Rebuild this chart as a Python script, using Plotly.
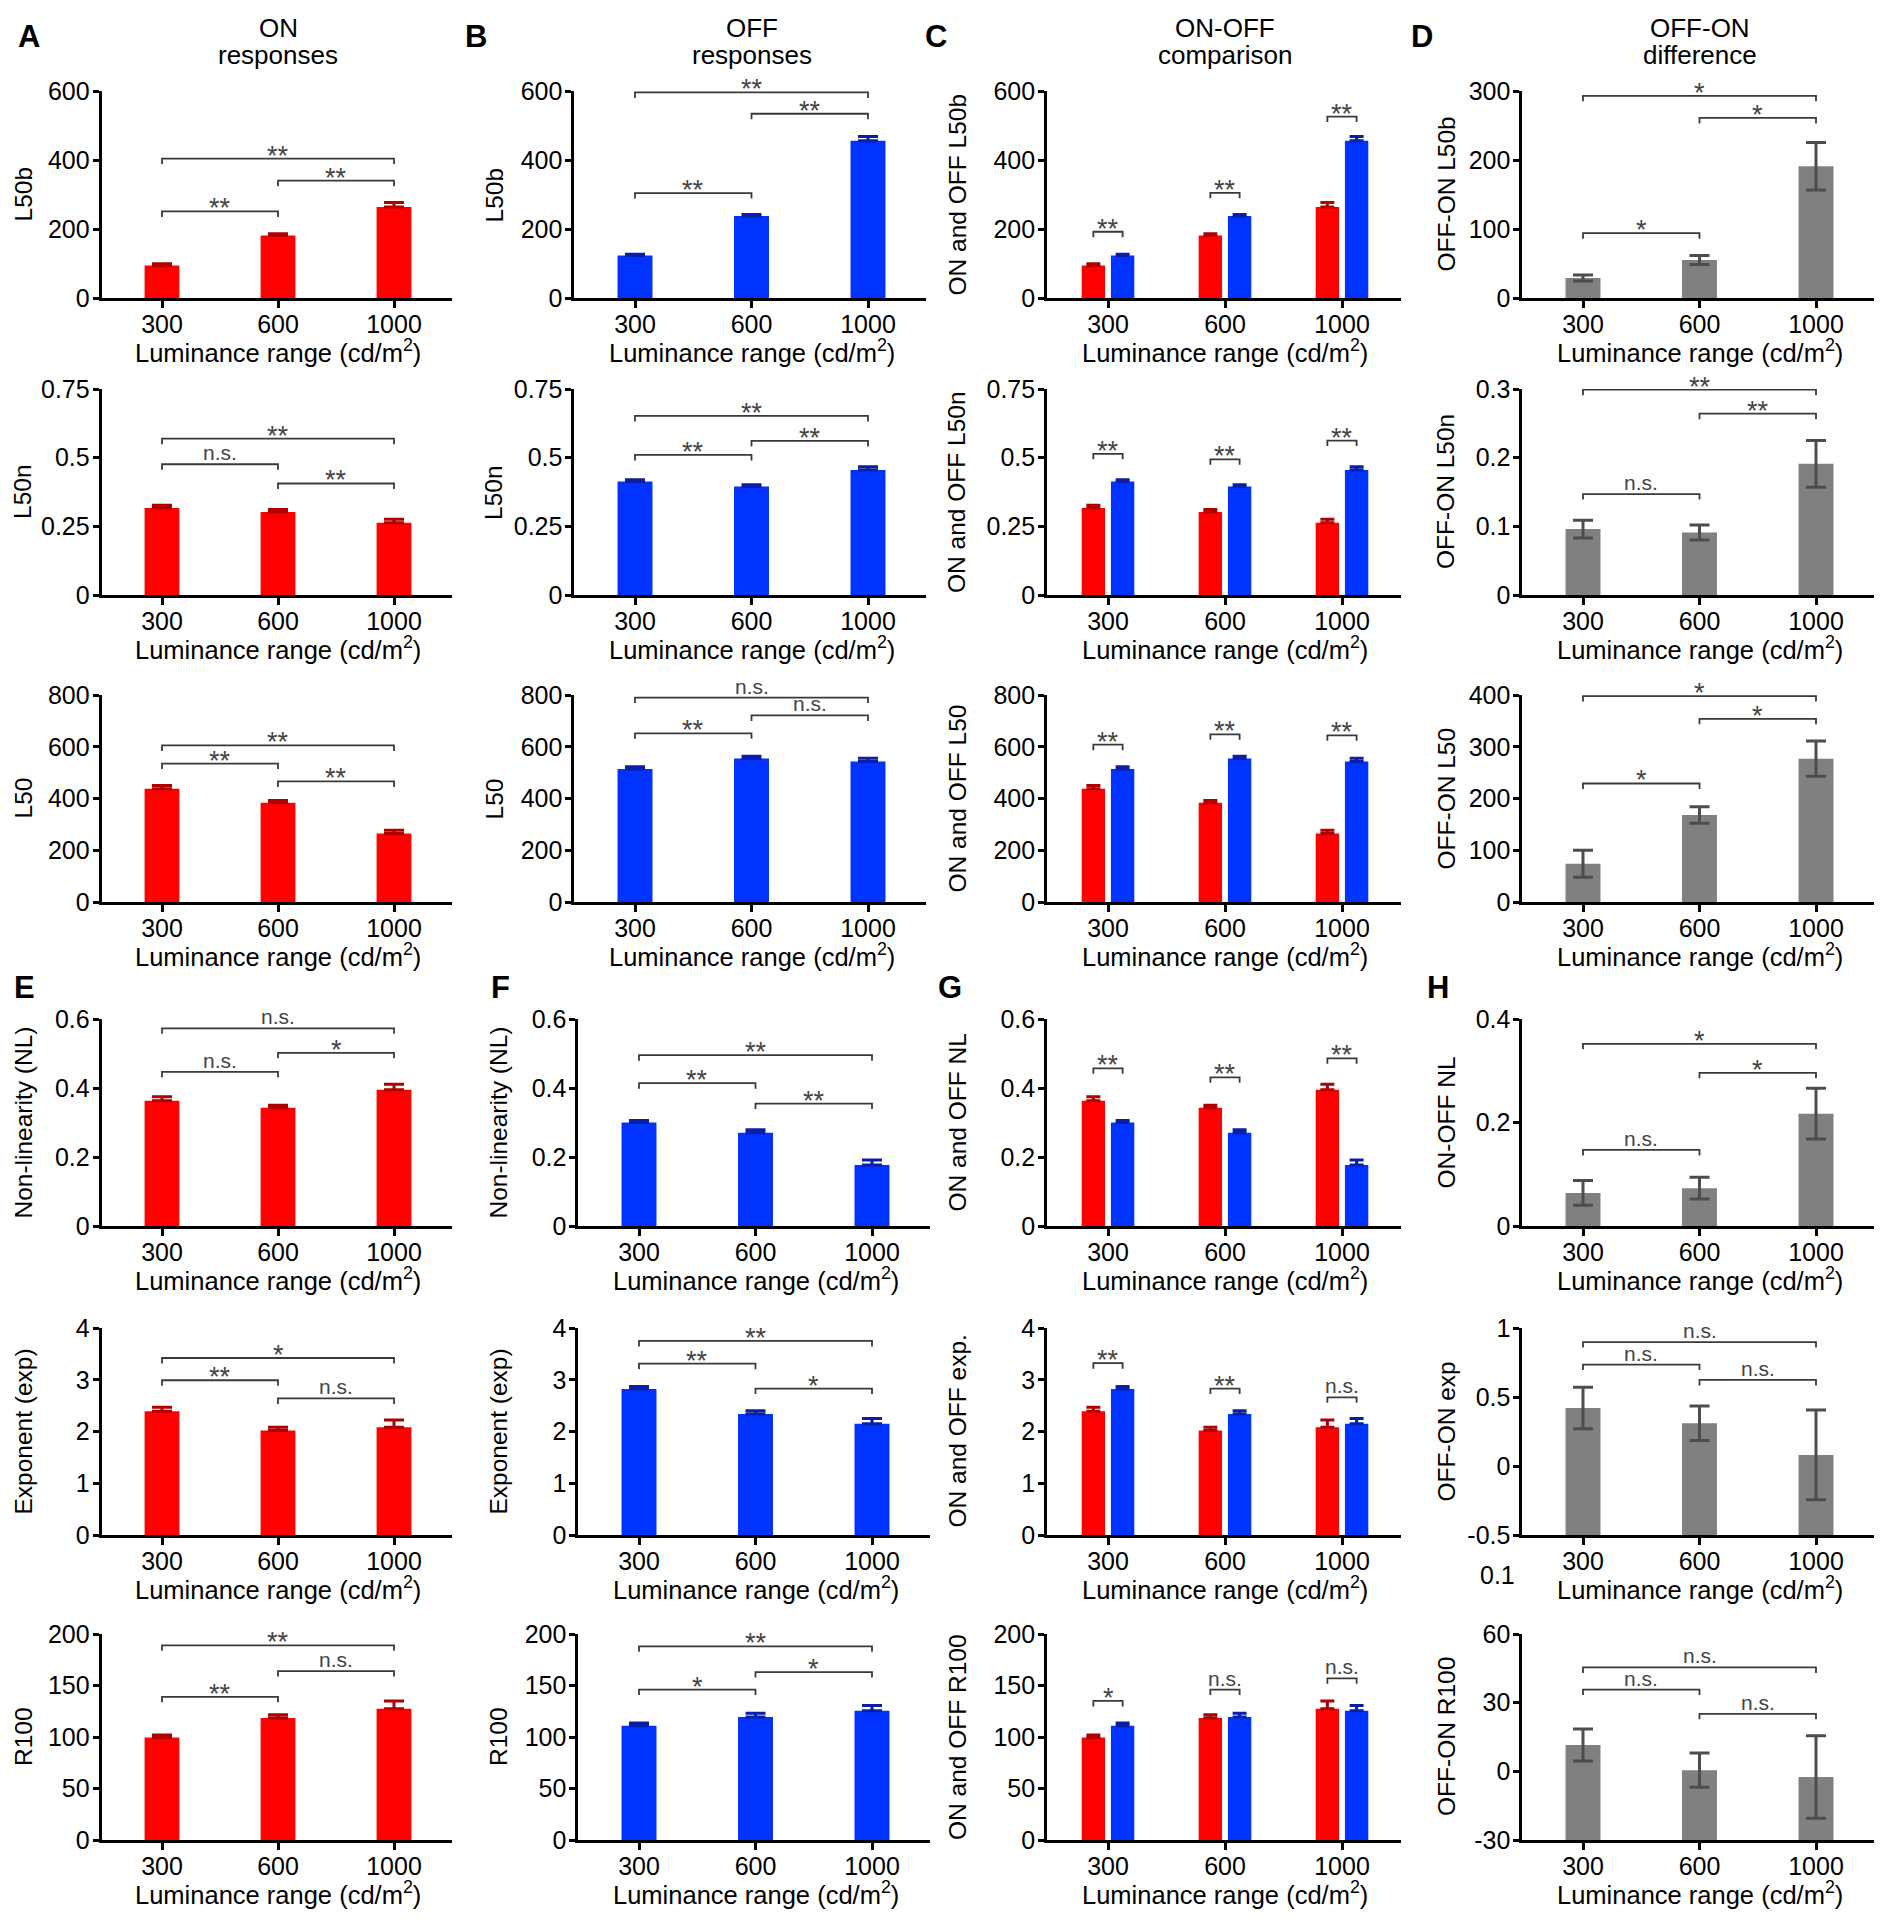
import plotly.graph_objects as go

# ---------------- data ----------------
categories = ["300", "600", "1000"]

on_L50b = [94, 181, 264]
on_L50b_err = [5, 5, 13]
off_L50b = [123, 238, 456]
off_L50b_err = [4, 4, 12]
diff_L50b = [29, 55, 191]
diff_L50b_err = [4.5, 6.5, 34.5]

on_L50n = [0.317, 0.302, 0.263]
on_L50n_err = [0.010, 0.009, 0.013]
off_L50n = [0.413, 0.395, 0.455]
off_L50n_err = [0.007, 0.006, 0.012]
diff_L50n = [0.096, 0.091, 0.191]
diff_L50n_err = [0.013, 0.011, 0.034]

on_L50 = [438, 384, 265]
on_L50_err = [12, 8, 12]
off_L50 = [514, 555, 543]
off_L50_err = [9, 8, 13]
diff_L50 = [74, 168, 277]
diff_L50_err = [26, 16, 34]

on_NL = [0.363, 0.343, 0.395]
on_NL_err = [0.012, 0.007, 0.016]
off_NL = [0.300, 0.270, 0.177]
off_NL_err = [0.006, 0.009, 0.014]
diff_NL = [0.064, 0.073, 0.217]
diff_NL_err = [0.024, 0.021, 0.049]

on_exp = [2.39, 2.02, 2.08]
on_exp_err = [0.08, 0.06, 0.14]
off_exp = [2.82, 2.34, 2.15]
off_exp_err = [0.05, 0.06, 0.10]
diff_exp = [0.42, 0.31, 0.08]
diff_exp_err = [0.15, 0.125, 0.325]

on_R100 = [99.5, 118.5, 127.5]
on_R100_err = [2.5, 3, 7.5]
off_R100 = [111, 119.5, 125.5]
off_R100_err = [2.5, 3.5, 5]
diff_R100 = [11.5, 0.5, -2.5]
diff_R100_err = [7, 7.5, 18]

# significance brackets: (from, to, height, label) or (group, height, label)
sig_on_L50b = [(0, 1, 251, "**"), (1, 2, 340, "**"), (0, 2, 404, "**")]
sig_off_L50b = [(0, 1, 304, "**"), (1, 2, 534, "**"), (0, 2, 596, "**")]
sig_pair_L50b = [(0, 192, "**"), (1, 305, "**"), (2, 526, "**")]
sig_diff_L50b = [(0, 1, 94, "*"), (1, 2, 261, "*"), (0, 2, 293, "*")]

sig_on_L50n = [(0, 1, 0.476, "n.s."), (1, 2, 0.406, "**"), (0, 2, 0.569, "**")]
sig_off_L50n = [(0, 1, 0.51, "**"), (1, 2, 0.561, "**"), (0, 2, 0.652, "**")]
sig_pair_L50n = [(0, 0.514, "**"), (1, 0.494, "**"), (2, 0.562, "**")]
sig_diff_L50n = [(0, 1, 0.147, "n.s."), (1, 2, 0.264, "**"), (0, 2, 0.299, "**")]

sig_on_L50 = [(0, 1, 535, "**"), (1, 2, 466, "**"), (0, 2, 605, "**")]
sig_off_L50 = [(0, 1, 652, "**"), (1, 2, 721, "n.s."), (0, 2, 790, "n.s.")]
sig_pair_L50 = [(0, 608, "**"), (1, 648, "**"), (2, 644, "**")]
sig_diff_L50 = [(0, 1, 229, "*"), (1, 2, 354, "*"), (0, 2, 398, "*")]

sig_on_NL = [(0, 1, 0.447, "n.s."), (1, 2, 0.502, "*"), (0, 2, 0.573, "n.s.")]
sig_off_NL = [(0, 1, 0.414, "**"), (1, 2, 0.355, "**"), (0, 2, 0.495, "**")]
sig_pair_NL = [(0, 0.457, "**"), (1, 0.431, "**"), (2, 0.486, "**")]
sig_diff_NL = [(0, 1, 0.147, "n.s."), (1, 2, 0.296, "*"), (0, 2, 0.352, "*")]

sig_on_exp = [(0, 1, 2.99, "**"), (1, 2, 2.64, "n.s."), (0, 2, 3.42, "*")]
sig_off_exp = [(0, 1, 3.31, "**"), (1, 2, 2.83, "*"), (0, 2, 3.75, "**")]
sig_pair_exp = [(0, 3.32, "**"), (1, 2.83, "**"), (2, 2.66, "n.s.")]
sig_diff_exp = [(0, 1, 0.735, "n.s."), (1, 2, 0.624, "n.s."), (0, 2, 0.898, "n.s.")]

sig_on_R100 = [(0, 1, 139, "**"), (1, 2, 164, "n.s."), (0, 2, 189, "**")]
sig_off_R100 = [(0, 1, 146, "*"), (1, 2, 163, "*"), (0, 2, 188, "**")]
sig_pair_R100 = [(0, 135, "*"), (1, 146, "n.s."), (2, 157, "n.s.")]
sig_diff_R100 = [(0, 1, 35.7, "n.s."), (1, 2, 25.1, "n.s."), (0, 2, 45.4, "n.s.")]

col_titles = [("ON", "responses"), ("OFF", "responses"), ("ON-OFF", "comparison"), ("OFF-ON", "difference")]
x_title = "Luminance range (cd/m<sup>2</sup>)"

# ---------------- layout / style ----------------
W, H = 1883, 1920
FONT = "Arial, Liberation Sans, Helvetica, sans-serif"
RED, RED_E = "#ff0000", "#b00000"
BLUE, BLUE_E = "#0033ff", "#0a1fa8"
GRAY, GRAY_E = "#808080", "#4d4d4d"
XR = (-0.52, 2.5)
TICK_FS = 25
XT_FS = 25.5
YT_FS = 24.5

# first tick px, spacing px, y-title px for each column (top half / bottom half)
cols_top = [(162, 116, 23), (635, 116.5, 494), (1108, 117, 957), (1583, 116.5, 1446)]
cols_bot = [(162, 116, 23), (639, 116.5, 498), (1108, 117, 957), (1583, 116.5, 1446)]
rows_px = [(91, 298), (389, 595), (695, 902), (1019, 1226), (1328, 1535), (1634, 1840)]

rows = [
    dict(on=(on_L50b, on_L50b_err, sig_on_L50b), off=(off_L50b, off_L50b_err, sig_off_L50b),
         pair=sig_pair_L50b, diff=(diff_L50b, diff_L50b_err, sig_diff_L50b),
         titles=["L50b", "L50b", "ON and OFF L50b", "OFF-ON L50b"],
         rng=[0, 600], tv=[0, 200, 400, 600], tt=["0", "200", "400", "600"],
         drng=[0, 300], dtv=[0, 100, 200, 300], dtt=["0", "100", "200", "300"]),
    dict(on=(on_L50n, on_L50n_err, sig_on_L50n), off=(off_L50n, off_L50n_err, sig_off_L50n),
         pair=sig_pair_L50n, diff=(diff_L50n, diff_L50n_err, sig_diff_L50n),
         titles=["L50n", "L50n", "ON and OFF L50n", "OFF-ON L50n"],
         rng=[0, 0.75], tv=[0, 0.25, 0.5, 0.75], tt=["0", "0.25", "0.5", "0.75"],
         drng=[0, 0.3], dtv=[0, 0.1, 0.2, 0.3], dtt=["0", "0.1", "0.2", "0.3"]),
    dict(on=(on_L50, on_L50_err, sig_on_L50), off=(off_L50, off_L50_err, sig_off_L50),
         pair=sig_pair_L50, diff=(diff_L50, diff_L50_err, sig_diff_L50),
         titles=["L50", "L50", "ON and OFF L50", "OFF-ON L50"],
         rng=[0, 800], tv=[0, 200, 400, 600, 800], tt=["0", "200", "400", "600", "800"],
         drng=[0, 400], dtv=[0, 100, 200, 300, 400], dtt=["0", "100", "200", "300", "400"]),
    dict(on=(on_NL, on_NL_err, sig_on_NL), off=(off_NL, off_NL_err, sig_off_NL),
         pair=sig_pair_NL, diff=(diff_NL, diff_NL_err, sig_diff_NL),
         titles=["Non-linearity (NL)", "Non-linearity (NL)", "ON and OFF NL", "ON-OFF NL"],
         rng=[0, 0.6], tv=[0, 0.2, 0.4, 0.6], tt=["0", "0.2", "0.4", "0.6"],
         drng=[0, 0.4], dtv=[0, 0.2, 0.4], dtt=["0", "0.2", "0.4"]),
    dict(on=(on_exp, on_exp_err, sig_on_exp), off=(off_exp, off_exp_err, sig_off_exp),
         pair=sig_pair_exp, diff=(diff_exp, diff_exp_err, sig_diff_exp),
         titles=["Exponent (exp)", "Exponent (exp)", "ON and OFF exp.", "OFF-ON exp"],
         rng=[0, 4], tv=[0, 1, 2, 3, 4], tt=["0", "1", "2", "3", "4"],
         drng=[-0.5, 1], dtv=[-0.5, 0, 0.5, 1], dtt=["-0.5", "0", "0.5", "1"]),
    dict(on=(on_R100, on_R100_err, sig_on_R100), off=(off_R100, off_R100_err, sig_off_R100),
         pair=sig_pair_R100, diff=(diff_R100, diff_R100_err, sig_diff_R100),
         titles=["R100", "R100", "ON and OFF R100", "OFF-ON R100"],
         rng=[0, 200], tv=[0, 50, 100, 150, 200], tt=["0", "50", "100", "150", "200"],
         drng=[-30, 60], dtv=[-30, 0, 30, 60], dtt=["-30", "0", "30", "60"]),
]

idx = list(range(len(categories)))
fig = go.Figure()
layout = {}
shapes = []
annots = []


def fx(px):
    return px / W


def fy(py):
    return 1 - py / H


def add_bracket(xa, ya, x0, x1, yv, label, rng):
    leg = 5.5 * (rng[1] - rng[0]) / 207.0
    shapes.append(dict(type="path", xref=xa, yref=ya,
                       path=f"M {x0},{yv - leg} L {x0},{yv} L {x1},{yv} L {x1},{yv - leg}",
                       line=dict(color="#3a3a3a", width=1.8)))
    star = "*" in label
    annots.append(dict(x=(x0 + x1) / 2, y=yv, xref=xa, yref=ya, text=label, showarrow=False,
                       xanchor="center", yanchor="bottom", yshift=-14 if star else -2,
                       font=dict(family=FONT, size=27 if star else 21, color="#444444")))


k = 0
for r, row in enumerate(rows):
    top, bot = rows_px[r]
    cols = cols_top if r < 3 else cols_bot
    for c in range(4):
        k += 1
        s = "" if k == 1 else str(k)
        xa, ya = "x" + s, "y" + s
        t0, sp, ytx = cols[c]
        if c == 3:
            rng, tv, tt = row["drng"], row["dtv"], row["dtt"]
        else:
            rng, tv, tt = row["rng"], row["tv"], row["tt"]
        layout["xaxis" + s] = dict(
            domain=[fx(t0 + XR[0] * sp), fx(t0 + XR[1] * sp)], range=list(XR), anchor=ya,
            tickvals=idx, ticktext=categories, ticks="outside", ticklen=7, tickwidth=3,
            tickcolor="black", showline=True, linewidth=3, linecolor="black",
            showgrid=False, zeroline=False, fixedrange=True, automargin=False,
            ticklabelstandoff=-5,
            tickfont=dict(family=FONT, size=TICK_FS, color="black"))
        layout["yaxis" + s] = dict(
            domain=[fy(bot), fy(top)], range=rng, anchor=xa,
            tickvals=tv, ticktext=tt, ticks="outside", ticklen=6, tickwidth=3,
            tickcolor="black", showline=True, linewidth=3, linecolor="black",
            showgrid=False, zeroline=False, fixedrange=True, automargin=False,
            ticklabelstandoff=-2,
            tickfont=dict(family=FONT, size=TICK_FS, color="black"))

        if c in (0, 1):
            vals, errs, sig = row["on"] if c == 0 else row["off"]
            col, ecol = (RED, RED_E) if c == 0 else (BLUE, BLUE_E)
            fig.add_trace(go.Bar(x=idx, y=vals, width=0.3, marker=dict(color=col, line=dict(width=0)),
                                 error_y=dict(type="data", array=errs, arrayminus=[0] * len(errs),
                                              symmetric=False, color=ecol, thickness=3, width=10),
                                 xaxis=xa, yaxis=ya, showlegend=False))
            for (i, j, yv, lab) in sig:
                add_bracket(xa, ya, i, j, yv, lab, rng)
        elif c == 2:
            for (vals, errs, sig), col, ecol, off in ((row["on"], RED, RED_E, -0.225),
                                                      (row["off"], BLUE, BLUE_E, 0.025)):
                fig.add_trace(go.Bar(x=idx, y=vals, width=0.2, offset=off,
                                     marker=dict(color=col, line=dict(width=0)),
                                     error_y=dict(type="data", array=errs, arrayminus=[0] * len(errs),
                                                  symmetric=False, color=ecol, thickness=3, width=7),
                                     xaxis=xa, yaxis=ya, showlegend=False))
            for (i, yv, lab) in row["pair"]:
                add_bracket(xa, ya, i - 0.125, i + 0.125, yv, lab, rng)
        else:
            vals, errs, sig = row["diff"]
            base = rng[0]
            fig.add_trace(go.Bar(x=idx, y=[v - base for v in vals], base=base, width=0.3,
                                 marker=dict(color=GRAY, line=dict(width=0)),
                                 error_y=dict(type="data", array=errs, color=GRAY_E, thickness=3, width=10),
                                 xaxis=xa, yaxis=ya, showlegend=False))
            for (i, j, yv, lab) in sig:
                add_bracket(xa, ya, i, j, yv, lab, rng)

        # axis titles
        annots.append(dict(x=fx(t0 + sp), y=fy(bot + 53), xref="paper", yref="paper",
                           text=x_title, showarrow=False, xanchor="center", yanchor="middle",
                           font=dict(family=FONT, size=XT_FS, color="black")))
        annots.append(dict(x=fx(ytx), y=fy((top + bot) / 2), xref="paper", yref="paper",
                           text=row["titles"][c], showarrow=False, textangle=-90,
                           xanchor="center", yanchor="middle",
                           font=dict(family=FONT, size=YT_FS, color="black")))

# column headers (two lines each)
for c, (l1, l2) in enumerate(col_titles):
    t0, sp, _ = cols_top[c]
    for txt, yy in ((l1, 28), (l2, 55)):
        annots.append(dict(x=fx(t0 + sp), y=fy(yy), xref="paper", yref="paper", text=txt,
                           showarrow=False, xanchor="center", yanchor="middle",
                           font=dict(family=FONT, size=26, color="black")))

# panel letters
letters = [("A", 29, 36), ("B", 476, 36), ("C", 936, 36), ("D", 1422, 36),
           ("E", 24, 988), ("F", 500, 988), ("G", 950, 988), ("H", 1438, 988)]
for L, lx, ly in letters:
    annots.append(dict(x=fx(lx), y=fy(ly), xref="paper", yref="paper", text=f"<b>{L}</b>",
                       showarrow=False, xanchor="center", yanchor="middle",
                       font=dict(family=FONT, size=31, color="black")))

# stray label present in the original figure
annots.append(dict(x=fx(1497), y=fy(1575), xref="paper", yref="paper", text="0.1",
                   showarrow=False, xanchor="center", yanchor="middle",
                   font=dict(family=FONT, size=TICK_FS, color="black")))

fig.update_layout(
    width=W, height=H, margin=dict(l=0, r=0, t=0, b=0, autoexpand=False),
    paper_bgcolor="white", plot_bgcolor="white", barmode="overlay",
    font=dict(family=FONT, size=22, color="black"),
    shapes=shapes, annotations=annots, showlegend=False, **layout)

post = """
document.body.style.margin='0';
document.body.style.overflow='hidden';
var gd = document.getElementById('{plot_id}');
function cleanEmpty() {
  gd.querySelectorAll('text').forEach(function(t) {
    if (!t.textContent || !t.textContent.trim()) { t.remove(); }
  });
}
cleanEmpty();
if (gd.on) { gd.on('plotly_afterplot', cleanEmpty); }
setTimeout(cleanEmpty, 0);
setTimeout(cleanEmpty, 200);
setTimeout(cleanEmpty, 800);
"""

fig.write_html("out.html", config={"displayModeBar": False}, post_script=post)
